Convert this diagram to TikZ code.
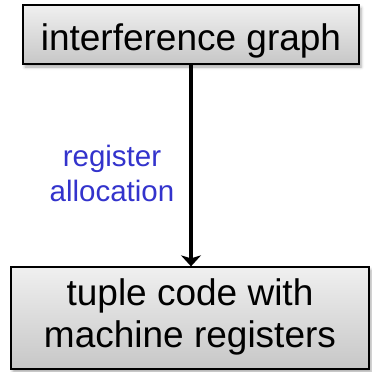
\documentclass[tikz,border=0pt]{standalone}
\usepackage{fontspec}
\setmainfont{Liberation Sans}
\usetikzlibrary{arrows.meta,shadows.blur}
\definecolor{lblblue}{RGB}{51,51,204}
\tikzset{
  boxnode/.style={draw=black, line width=1.3pt, top color=black!6, bottom color=black!22,
    inner sep=0pt,
    font=\fontsize{37pt}{42pt}\selectfont,
    blur shadow={shadow xshift=2pt, shadow yshift=-3pt, shadow blur radius=3pt, shadow opacity=35}},
  arr/.style={line width=4.8pt, -{Stealth[length=11pt, width=20pt, inset=3pt]}},
  lbl/.style={text=lblblue, align=center, font=\fontsize{29.5pt}{35pt}\selectfont, inner sep=0pt}
}
\begin{document}
\begin{tikzpicture}[x=1pt, y=-1pt]
  \useasboundingbox (0,0) rectangle (372,372);
  \node[boxnode, minimum width=336pt, minimum height=59pt, text height=31pt, text depth=0pt]
    (top) at (191,34.5) {interference graph};
  \node[boxnode, minimum width=358pt, minimum height=102pt]
    (bot) at (190,318) {\raisebox{-8pt}{\begin{tabular}{@{}c@{}}tuple code with\\machine registers\end{tabular}}};
  \draw[arr] (top.south) -- node[lbl, xshift=-79pt, yshift=-7.5pt] (lab) {register\\allocation} (top.south |- bot.north);
\end{tikzpicture}
\end{document}
